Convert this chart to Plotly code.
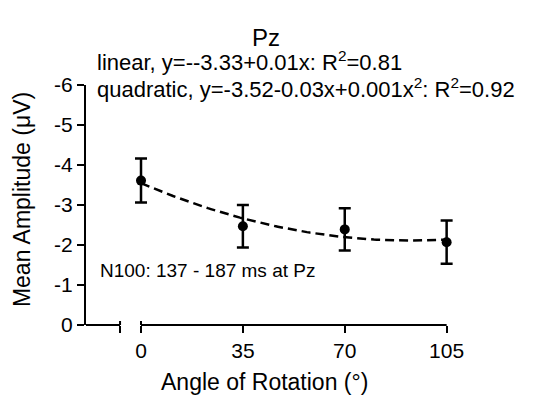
import numpy as np
import plotly.graph_objects as go

# ---- data ----
angles = [0, 35, 70, 105]
mean_amp = [-3.61, -2.47, -2.39, -2.07]
sem = [0.55, 0.53, 0.53, 0.54]
x_tick_vals = [0, 35, 70, 105]
x_tick_text = ["0", "35", "70", "105"]
y_tick_vals = [0, -1, -2, -3, -4, -5, -6]
y_tick_text = ["0", "-1", "-2", "-3", "-4", "-5", "-6"]
x_break = -7.2          # end of the short left axis segment
x_axis_min = -18.9
x_axis_max = 112

title_text = "Pz"
fit_lin_text = "linear, y=--3.33+0.01x: R<sup>2</sup>=0.81"
fit_quad_text = "quadratic, y=-3.52-0.03x+0.001x<sup>2</sup>: R<sup>2</sup>=0.92"
window_text = "N100: 137 - 187 ms at Pz"
x_title = "Angle of Rotation (°)"
y_title = "Mean Amplitude (μV)"

# quadratic fit of the means (dashed curve)
coef = np.polyfit(angles, mean_amp, 2)
fit_x = np.linspace(angles[0], angles[-1], 106)
fit_y = np.polyval(coef, fit_x)

FONT = "Liberation Sans, Arial, sans-serif"
W, H = 543, 403
OFF = 8                     # page body margin
PL, PT, PB = 86, 85, 325    # plot area edges on the page
scale = (447 - 141) / 105   # px per degree
pw = (x_axis_max - x_axis_min) * scale
ph = PB - PT
L, T = PL - OFF, PT - OFF
R = W - L - pw
B = H - T - ph

def px(xp):
    return (xp - PL) / pw

def py(yp):
    return (PB - yp) / ph

fig = go.Figure()
fig.add_trace(go.Scatter(
    x=fit_x, y=fit_y, mode="lines",
    line=dict(color="black", width=2.5, dash="9px,5px"),
    hoverinfo="skip", cliponaxis=False, showlegend=False))
fig.add_trace(go.Scatter(
    x=angles, y=mean_amp, mode="markers",
    marker=dict(color="black", size=10),
    error_y=dict(type="data", array=sem, color="black", thickness=2.5, width=6),
    cliponaxis=False, showlegend=False))

# broken x-axis: two segments
line_style = dict(color="black", width=2)
fig.add_shape(type="line", xref="x", yref="paper", x0=x_axis_min, x1=x_break, y0=0, y1=0, line=line_style)
fig.add_shape(type="line", xref="x", yref="paper", x0=0, x1=angles[-1], y0=0, y1=0, line=line_style)
for xb in (x_break, 0):
    fig.add_shape(type="line", xref="x", yref="paper", x0=xb, x1=xb, y0=0, y1=4 / ph, line=line_style)

fig.update_xaxes(
    range=[x_axis_min, x_axis_max], showline=False, zeroline=False, showgrid=False,
    tickmode="array", tickvals=[x_break] + x_tick_vals, ticktext=[""] + x_tick_text,
    ticks="outside", ticklen=7, tickwidth=2, tickcolor="black",
    tickfont=dict(family=FONT, size=21, color="black"),
)
fig.update_yaxes(
    range=[0, -6], showline=True, linecolor="black", linewidth=2, zeroline=False, showgrid=False,
    tickmode="array", tickvals=y_tick_vals, ticktext=y_tick_text,
    ticks="outside", ticklen=7, tickwidth=2, tickcolor="black",
    tickfont=dict(family=FONT, size=21, color="black"),
)

ann_font = dict(family=FONT, size=22, color="black")
fig.add_annotation(text=title_text, xref="paper", yref="paper", x=px(266), y=py(37),
                   showarrow=False, font=dict(family=FONT, size=24, color="black"),
                   xanchor="center", yanchor="middle")
fig.add_annotation(text=fit_lin_text, xref="paper", yref="paper", x=px(95), y=py(61),
                   showarrow=False, font=ann_font, xanchor="left", yanchor="middle")
fig.add_annotation(text=fit_quad_text, xref="paper", yref="paper", x=px(95), y=py(88),
                   showarrow=False, font=ann_font, xanchor="left", yanchor="middle")
fig.add_annotation(text=window_text, xref="paper", yref="paper", x=px(98), y=py(270),
                   showarrow=False, font=dict(family=FONT, size=19, color="black"),
                   xanchor="center" if False else "left", yanchor="middle")
fig.add_annotation(text=x_title, xref="paper", yref="paper", x=px(265), y=py(382),
                   showarrow=False, font=dict(family=FONT, size=23, color="black"),
                   xanchor="center", yanchor="middle")
fig.add_annotation(text=y_title, xref="paper", yref="paper", x=px(22), y=py(200),
                   showarrow=False, font=dict(family=FONT, size=23, color="black"),
                   xanchor="center", yanchor="middle", textangle=-90)

fig.update_layout(
    width=W, height=H, margin=dict(l=L, r=R, t=T, b=B),
    paper_bgcolor="white", plot_bgcolor="white",
    font=dict(family=FONT, color="black"),
)
fig.write_html("out.html")
